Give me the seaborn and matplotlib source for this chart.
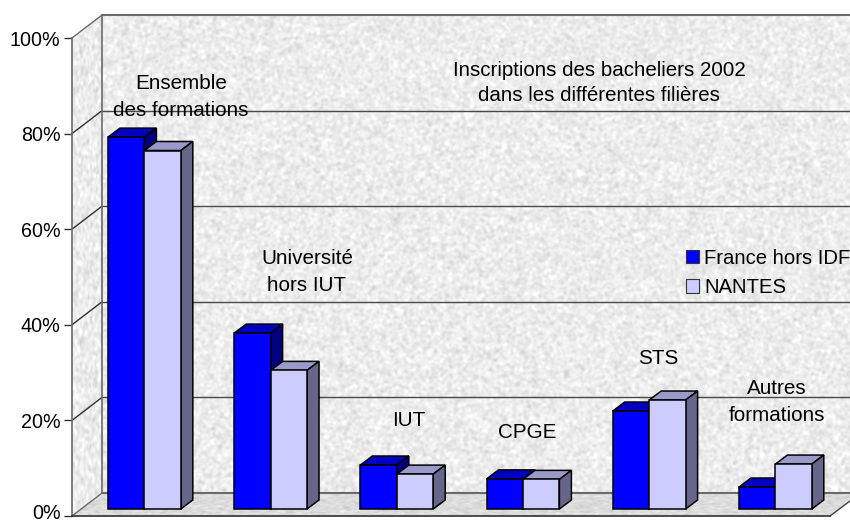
import numpy as np
import pandas as pd
import matplotlib
matplotlib.use("Agg")
import matplotlib.pyplot as plt
from matplotlib.patches import Polygon, Patch
from matplotlib.transforms import ScaledTranslation
import seaborn as sns

categories = ["Ensemble des formations", "Université hors IUT", "IUT", "CPGE", "STS", "Autres formations"]
france = [77.8, 36.8, 9.2, 6.3, 20.5, 4.6]
nantes = [75.0, 29.0, 7.3, 6.2, 22.8, 9.4]
series_names = ["France hors IDF", "NANTES"]
yticks = [0, 20, 40, 60, 80, 100]

W, H = 850, 521
sns.set_theme(style="white")
plt.rcParams["font.family"] = ["Liberation Sans", "DejaVu Sans"]


def axes_px(fig, left, top, right, bottom):
    return fig.add_axes([left / W, 1 - bottom / H, (right - left) / W, (bottom - top) / H])


df = pd.DataFrame({
    "cat": categories * 2,
    "serie": [series_names[0]] * 6 + [series_names[1]] * 6,
    "val": france + nantes,
})

fig = plt.figure(figsize=(8.5, 5.21), dpi=100)

# decor : murs et sol, en pixels
canvas = fig.add_axes([0, 0, 1, 1])
canvas.set_xlim(0, W)
canvas.set_ylim(H, 0)
canvas.axis("off")


def texture(seed, base, amp, kx, ky):
    rng = np.random.default_rng(seed)
    n = rng.normal(size=(H, W))
    f = np.fft.rfft2(n)
    fy = np.fft.fftfreq(H)[:, None]
    fx = np.fft.rfftfreq(W)[None, :]
    f *= np.exp(-((fx * kx) ** 2 + (fy * ky) ** 2) * 6)
    s = np.fft.irfft2(f, s=(H, W))
    s = s / s.std()
    return np.clip(base + amp * s, 0, 1)


def textured(poly, seed, base, amp, kx=2.2, ky=2.2):
    im = canvas.imshow(texture(seed, base, amp, kx, ky), cmap="gray", vmin=0, vmax=1,
                       extent=(0, W, H, 0), aspect="auto", zorder=1)
    clip = Polygon(poly, closed=True, transform=canvas.transData, fc="none", ec="none")
    canvas.add_patch(clip)
    im.set_clip_path(clip)


textured([(102, 15), (860, 15), (860, 493), (102, 493)], 1, 0.925, 0.026)
textured([(72, 38), (102, 15), (102, 493), (72, 516)], 2, 0.925, 0.03, 1.5, 3)
textured([(72, 516), (102, 493), (860, 493), (830, 516)], 3, 0.86, 0.02, 3, 1)
canvas.set_xlim(0, W)
canvas.set_ylim(H, 0)

for t in yticks:
    y_front = 516 - t * 4.78
    y_back = y_front - 23
    col = "#6a6a6a" if t in (0, 100) else "#484848"
    lw = 1.5 if t in (0, 100) else 1.0
    canvas.plot([102, 850], [y_back, y_back], color=col, lw=lw, zorder=2)
    if t > 0:
        canvas.plot([72, 102], [y_front, y_back], color="#303030" if t < 100 else "#6a6a6a", lw=1.0, zorder=2)
canvas.plot([102, 102], [15, 493], color="#6a6a6a", lw=1.2, zorder=2)
canvas.plot([72, 102], [516, 493], color="#6a6a6a", lw=1.0, zorder=2)
canvas.plot([830, 850], [516, 501], color="#404040", lw=1.0, zorder=2)

# axe avant avec les graduations
ax_front = axes_px(fig, 72, 38, 830, 516)
ax_front.patch.set_alpha(0)
ax_front.set_ylim(0, 100)
ax_front.set_xlim(0, 1)
ax_front.set_xticks([])
ax_front.set_yticks(yticks)
ax_front.set_yticklabels([f"{t}%" for t in yticks], fontsize=14.2, color="black")
ax_front.tick_params(axis="y", left=True, length=5.8, width=1, color="#303030", pad=2.5)
for name, sp in ax_front.spines.items():
    sp.set_visible(name in ("left", "bottom"))
    sp.set_color("#303030" if name == "bottom" else "#6a6a6a")
    sp.set_linewidth(1.2)
# le 0% reste entier dans l'image
zero_lab = ax_front.get_yticklabels()[0]
zero_lab.set_transform(zero_lab.get_transform() + ScaledTranslation(0, 3.2 / 72, fig.dpi_scale_trans))

# barres, plan decale par rapport a l'axe avant
ax = axes_px(fig, 81.3, 31, 838.5, 509)
sns.barplot(data=df, x="cat", y="val", hue="serie", order=categories, hue_order=series_names,
            palette=["#0000FF", "#CCCCFF"], width=0.577, gap=0, dodge=True, saturation=1,
            edgecolor="black", linewidth=1.1, legend=False, ax=ax)
ax.patch.set_alpha(0)
ax.set_ylim(0, 100)
ax.set_xlim(-0.5, 5.5)
ax.axis("off")

ddx = 12 / (757.2 / 6)
ddy = 9 / 4.78
faces = [("#0000C4", "#000080"), ("#9999CC", "#66668A")]
for i, container in enumerate(ax.containers):
    top_col, side_col = faces[i]
    for bar in container:
        x0, y1, w = bar.get_x(), bar.get_height(), bar.get_width()
        x1 = x0 + w
        bar.set_zorder(5 + 4 * i)
        bar.set_clip_on(False)
        ax.add_patch(Polygon([(x0, y1), (x1, y1), (x1 + ddx, y1 + ddy), (x0 + ddx, y1 + ddy)], closed=True,
                             fc=top_col, ec="black", lw=1.1, zorder=3 + 4 * i, clip_on=False))
        ax.add_patch(Polygon([(x1, 0), (x1 + ddx, ddy), (x1 + ddx, y1 + ddy), (x1, y1)], closed=True,
                             fc=side_col, ec="black", lw=1.1, zorder=3 + 4 * i, clip_on=False))

handles = [Patch(fc="#0000FF", ec="#333333", lw=0.8), Patch(fc="#CCCCFF", ec="#333333", lw=0.8)]
leg = ax.legend(handles, series_names, loc="upper left", frameon=False, fontsize=14.6,
                bbox_to_anchor=((686 - 81.3) / 757.2, 1 - (249 - 31) / 478),
                handlelength=0.62, handleheight=0.62, handletextpad=0.28, labelspacing=0.5,
                borderpad=0, borderaxespad=0)
leg.set_zorder(20)
for t in leg.get_texts():
    t.set_color("black")
    t.set_clip_on(False)

# libelles
labels = [
    ("Ensemble\ndes formations", 181, 97),
    ("Université\nhors IUT", 307, 272),
    ("IUT", 409, 420),
    ("CPGE", 527, 432),
    ("STS", 658, 359),
    ("Autres\nformations", 777, 402),
]
for txt, x, y in labels:
    canvas.text(x, y, txt, ha="center", va="center", fontsize=14.9,
                color="black", linespacing=1.5, zorder=6)
canvas.text(599, 83, "Inscriptions des bacheliers 2002\ndans les différentes filières", ha="center", va="center",
            fontsize=14.75, color="black", linespacing=1.4, zorder=6)

fig.savefig("out.png", dpi=100)
